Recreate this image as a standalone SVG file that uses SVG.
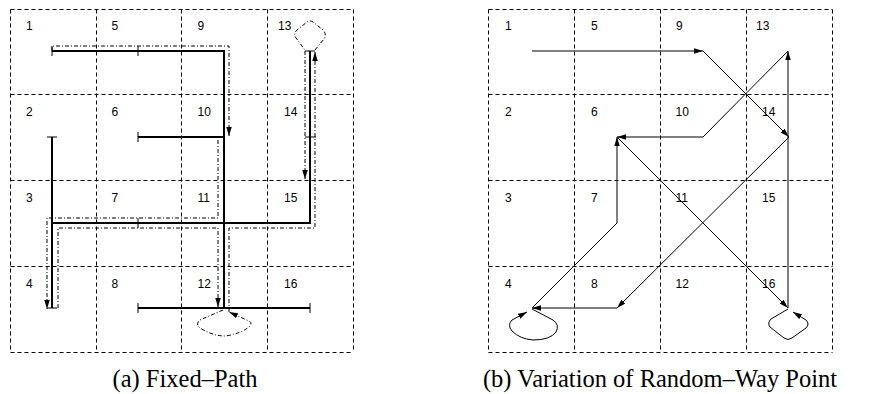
<svg xmlns="http://www.w3.org/2000/svg" width="877" height="394" viewBox="0 0 877 394">
<style>
.grid{stroke:#000;stroke-width:1;stroke-dasharray:4 3;fill:none}
.lbl{font-family:"Liberation Sans",Arial,sans-serif;font-size:12px;fill:#000}
.thick{stroke:#000;stroke-width:2;fill:none}
.tick{stroke:#000;stroke-width:1;fill:none}
.dd{stroke:#000;stroke-width:1;fill:none;stroke-dasharray:4 2 1 2}
.rw{stroke:#000;stroke-width:1;fill:none}
.cap{font-family:"Liberation Serif","Times New Roman",serif;font-size:24.5px;fill:#000}
</style>
<defs>
<marker id="ah" viewBox="0 0 10 10" refX="10" refY="5" markerWidth="9" markerHeight="5.5" preserveAspectRatio="none" markerUnits="userSpaceOnUse" orient="auto"><path d="M0,0 L10,5 L0,10 z" fill="#000"/></marker>
</defs>
<rect width="877" height="394" fill="#fff"/>
<g id="grid-a" class="grid">
<path d="M10.5,9.5H353.5M10.5,94.5H353.5M10.5,180.5H353.5M10.5,266.5H353.5M10.5,352.5H353.5"/>
<path d="M10.5,9.5V352.5M96.5,9.5V352.5M181.5,9.5V352.5M267.5,9.5V352.5M353.5,9.5V352.5"/>
</g>
<g id="grid-b" class="grid">
<path d="M488.5,9.5H832.5M488.5,94.5H832.5M488.5,180.5H832.5M488.5,266.5H832.5M488.5,352.5H832.5"/>
<path d="M488.5,9.5V352.5M574.5,9.5V352.5M660.5,9.5V352.5M746.5,9.5V352.5M832.5,9.5V352.5"/>
</g>
<g id="a1"><text class="lbl" x="26" y="29.5">1</text></g>
<g id="a2"><text class="lbl" x="26" y="116">2</text></g>
<g id="a3"><text class="lbl" x="26" y="202">3</text></g>
<g id="a4"><text class="lbl" x="26" y="288">4</text></g>
<g id="a5"><text class="lbl" x="111.5" y="29.5">5</text></g>
<g id="a6"><text class="lbl" x="111.5" y="116">6</text></g>
<g id="a7"><text class="lbl" x="111.5" y="202">7</text></g>
<g id="a8"><text class="lbl" x="111.5" y="288">8</text></g>
<g id="a9"><text class="lbl" x="197.5" y="29.5">9</text></g>
<g id="a10"><text class="lbl" x="197.5" y="116">10</text></g>
<g id="a11"><text class="lbl" x="197.5" y="202">11</text></g>
<g id="a12"><text class="lbl" x="197.5" y="288">12</text></g>
<g id="a13"><text class="lbl" x="278" y="29.5">13</text></g>
<g id="a14"><text class="lbl" x="284" y="116">14</text></g>
<g id="a15"><text class="lbl" x="284" y="202">15</text></g>
<g id="a16"><text class="lbl" x="284" y="288">16</text></g>
<g id="b1"><text class="lbl" x="505" y="29.5">1</text></g>
<g id="b2"><text class="lbl" x="505" y="116">2</text></g>
<g id="b3"><text class="lbl" x="505" y="202">3</text></g>
<g id="b4"><text class="lbl" x="505" y="288">4</text></g>
<g id="b5"><text class="lbl" x="591" y="29.5">5</text></g>
<g id="b6"><text class="lbl" x="591" y="116">6</text></g>
<g id="b7"><text class="lbl" x="591" y="202">7</text></g>
<g id="b8"><text class="lbl" x="591" y="288">8</text></g>
<g id="b9"><text class="lbl" x="676" y="29.5">9</text></g>
<g id="b10"><text class="lbl" x="675.5" y="116">10</text></g>
<g id="b11"><text class="lbl" x="675.5" y="202">11</text></g>
<g id="b12"><text class="lbl" x="675.5" y="288">12</text></g>
<g id="b13"><text class="lbl" x="756" y="29.5">13</text></g>
<g id="b14"><text class="lbl" x="762" y="116">14</text></g>
<g id="b15"><text class="lbl" x="762" y="202">15</text></g>
<g id="b16"><text class="lbl" x="762" y="288">16</text></g>
<g id="connectors">
<g id="fixed-path">
<path class="thick" d="M52,51H224V308"/>
<path class="thick" d="M138,137H224"/>
<path class="thick" d="M52,137V308"/>
<path class="thick" d="M52,223H310V51"/>
<path class="thick" d="M138,308H310"/>
<path class="tick" d="M52,46V56M138,46V56M47,137H57M138,132V142M138,218V228M47,308H57M138,303V313M310,303V313M305,51H315M305,137H316"/>
<path class="dd" d="M52,51V46H229V136" marker-end="url(#ah)"/>
<path class="dd" d="M218,140V218H47V309" marker-end="url(#ah)"/>
<path class="dd" d="M58,308V228H218V307" marker-end="url(#ah)"/>
<path class="dd" d="M223,310L200,320Q195,324 200,328Q213,336 225,336Q240,334 249,327Q253,323 249,321L229,312" marker-end="url(#ah)"/>
<path class="dd" d="M229,312V228H315V52" marker-end="url(#ah)"/>
<path class="dd" d="M315,50L324,39Q327,34 323,30L313,22Q310,20 307,22L297,30Q293,34 296,38L305,50"/>
<path class="dd" d="M305,51V179" marker-end="url(#ah)"/>
</g>
<g id="random-way-point">
<path class="rw" d="M532,51H703" marker-end="url(#ah)"/>
<path class="rw" d="M703,51L789,137" marker-end="url(#ah)"/>
<path class="rw" d="M789,137L617,308" marker-end="url(#ah)"/>
<path class="rw" d="M617,308H532" marker-end="url(#ah)"/>
<path class="rw" d="M532,309L553,320Q560,325 556,332Q550,340 533,340Q520,339 512,331Q507,325 512,320L527,312" marker-end="url(#ah)"/>
<path class="rw" d="M532,308L617,223V137" marker-end="url(#ah)"/>
<path class="rw" d="M617,137L788,308" marker-end="url(#ah)"/>
<path class="rw" d="M788,309L771,319Q767,323 770,327L784,338Q788,341 792,338L806,328Q810,324 806,320L793,312" marker-end="url(#ah)"/>
<path class="rw" d="M788,308V51" marker-end="url(#ah)"/>
<path class="rw" d="M788,51L703,137H617" marker-end="url(#ah)"/>
</g>
</g>
<text class="cap" x="185" y="387" text-anchor="middle">(a) Fixed–Path</text>
<text class="cap" x="660" y="387" text-anchor="middle">(b) Variation of Random–Way Point</text>
</svg>
